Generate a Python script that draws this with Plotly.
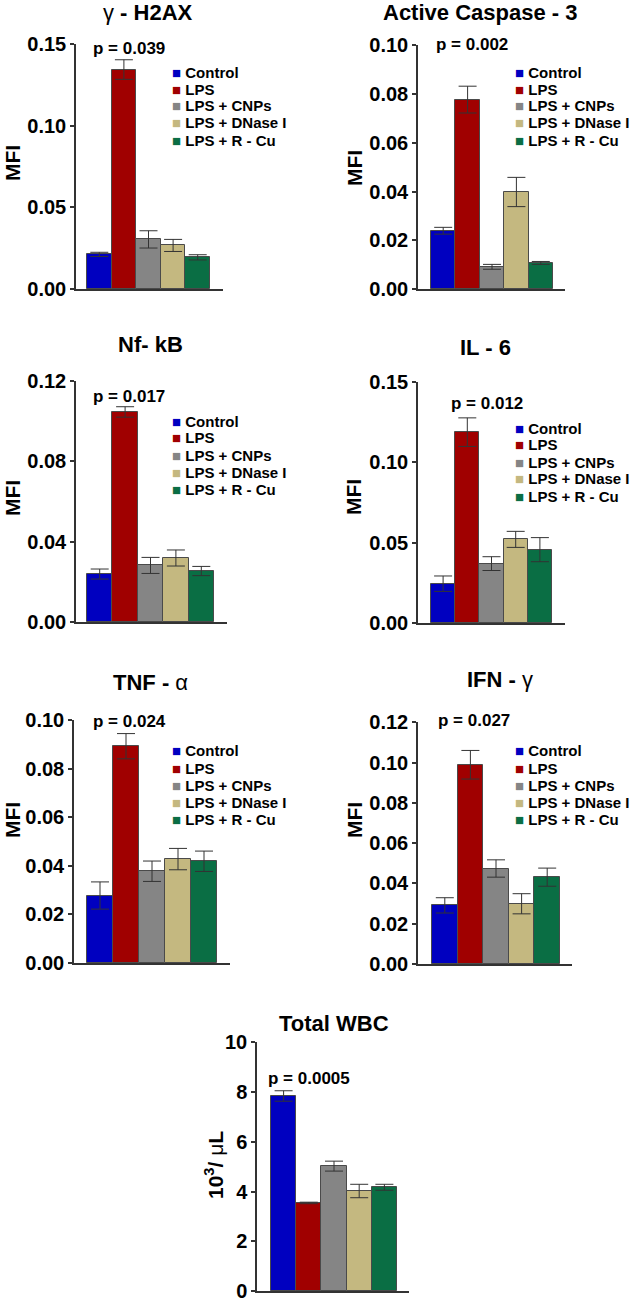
import plotly.graph_objects as go

groups = ["Control", "LPS", "LPS + CNPs", "LPS + DNase I", "LPS + R - Cu"]
colors = ["#0000C0", "#A00000", "#858585", "#C4B880", "#0A6E44"]

titles = ["γ - H2AX", "Active Caspase - 3", "Nf- kB", "IL - 6", "TNF - α", "IFN - γ", "Total WBC"]
p_values = ["p = 0.039", "p = 0.002", "p = 0.017", "p = 0.012", "p = 0.024", "p = 0.027", "p = 0.0005"]
y_titles = ["MFI", "MFI", "MFI", "MFI", "MFI", "MFI", "10<sup>3</sup>/ μL"]

h2ax = [0.0212, 0.1345, 0.0304, 0.0267, 0.0194]
h2ax_err = [0.0013, 0.0060, 0.0053, 0.0037, 0.0016]
casp3 = [0.0239, 0.0777, 0.0091, 0.0398, 0.0107]
casp3_err = [0.0014, 0.0055, 0.0010, 0.0060, 0.0006]
nfkb = [0.0239, 0.1047, 0.0282, 0.0319, 0.0254]
nfkb_err = [0.0025, 0.0026, 0.0040, 0.0040, 0.0023]
il6 = [0.0245, 0.1189, 0.0370, 0.0521, 0.0457]
il6_err = [0.0048, 0.0089, 0.0043, 0.0050, 0.0075]
tnfa = [0.0278, 0.0893, 0.0378, 0.0428, 0.0419]
tnfa_err = [0.0056, 0.0052, 0.0042, 0.0044, 0.0042]
ifng = [0.0291, 0.0989, 0.0474, 0.0299, 0.0431]
ifng_err = [0.0038, 0.0071, 0.0043, 0.0050, 0.0045]
wbc = [7.84, 3.54, 5.02, 4.02, 4.17]
wbc_err = [0.21, 0.03, 0.20, 0.27, 0.12]

values = [h2ax, casp3, nfkb, il6, tnfa, ifng, wbc]
errors = [h2ax_err, casp3_err, nfkb_err, il6_err, tnfa_err, ifng_err, wbc_err]

y_max = [0.15, 0.10, 0.12, 0.15, 0.10, 0.12, 10]
y_dtick = [0.05, 0.02, 0.04, 0.05, 0.02, 0.02, 2]
y_format = [".2f", ".2f", ".2f", ".2f", ".2f", ".2f", "d"]

# page layout, in pixels
W, H = 638, 1304
FONT = "Liberation Sans"
# axis left, axis right, first bar left, last bar right, y top, y bottom
boxes = [
    (76, 223, 87, 210, 44, 289),
    (418, 565, 431, 553, 45, 289),
    (76, 227, 87, 214, 381, 622),
    (418, 565, 431, 552, 382, 623),
    (74, 230, 87, 217, 720, 963),
    (418, 572, 432, 560, 722, 964),
    (257, 409, 271, 397, 1042, 1291),
]
title_pos = [(148, 13), (480, 13), (150, 345), (485, 347), (150, 682), (500, 679), (334, 1023)]
p_pos = [(91, 48), (434, 45), (91, 397), (449, 403), (91, 721), (436, 720), (266, 1078)]
ylab_pos = [(12, 163), (354, 168), (12, 498), (354, 497), (12, 820), (354, 820), (214, 1165)]
legend_pos = [(170, 72), (513, 72), (170, 421), (513, 428), (170, 751), (513, 751)]
legend_step = 17


def px_x( x ):
    return x / W


def px_y( y ):
    return 1 - y / H


def bold_text( s ):
    # greek letters stay regular weight, like the symbol font in the original
    out = ""
    for ch in s:
        if ch in "γαμ":
            out += f"</b>{ch}<b>"
        else:
            out += ch
    return f"<b>{out}</b>".replace( "<b></b>", "" )


fig = go.Figure()
annotations = []

for i, (vals, errs) in enumerate( zip( values, errors ) ):
    n = "" if i == 0 else str( i + 1 )
    x0, x1, bl, br, yt, yb = boxes[i]

    fig.add_trace( go.Bar( x=groups, y=vals,
                           xaxis=f"x{n}", yaxis=f"y{n}",
                           marker={ "color": colors, "line": { "color": "#4a4a4a", "width": 1 } },
                           error_y={ "type": "data", "array": errs, "visible": True,
                                     "color": "#333333", "thickness": 1, "width": 9 },
                           showlegend=False ) )

    bw = ( br - bl ) / len( groups )
    xr = [-0.5 - ( bl - x0 ) / bw, len( groups ) - 0.5 + ( x1 - br ) / bw]

    fig.update_layout( { f"xaxis{n}": dict( domain=[px_x( x0 ), px_x( x1 )], anchor=f"y{n}",
                                            range=xr, showline=True, linecolor="#333333", linewidth=1.5,
                                            showticklabels=False, ticks="", showgrid=False, zeroline=False,
                                            automargin=False, fixedrange=True ),
                         f"yaxis{n}": dict( domain=[px_y( yb ), px_y( yt )], anchor=f"x{n}",
                                            range=[0, y_max[i] * 1.001], dtick=y_dtick[i], tick0=0,
                                            tickformat=y_format[i], showline=True, linecolor="#333333",
                                            linewidth=1.5, ticks="outside", ticklen=4, tickcolor="#333333",
                                            tickwidth=1.5, ticklabeloverflow="allow",
                                            tickfont=dict( family=FONT, size=20, color="black", weight="bold" ),
                                            showgrid=False, zeroline=False, automargin=False,
                                            fixedrange=True ) } )

    # panel title
    tx, ty = title_pos[i]
    annotations.append( dict( text=bold_text( titles[i] ), xref="paper", yref="paper",
                              x=px_x( tx ), y=px_y( ty ), xanchor="center", yanchor="middle",
                              showarrow=False, font=dict( family=FONT, size=22, color="black" ) ) )
    # p value
    px, py = p_pos[i]
    annotations.append( dict( text=f"<b>{p_values[i]}</b>", xref="paper", yref="paper",
                              x=px_x( px ), y=px_y( py ), xanchor="left", yanchor="middle",
                              showarrow=False, font=dict( family=FONT, size=17, color="black" ) ) )
    # y axis label
    lx, ly = ylab_pos[i]
    annotations.append( dict( text=bold_text( y_titles[i] ), xref="paper", yref="paper",
                              x=px_x( lx ), y=px_y( ly ), xanchor="center", yanchor="middle",
                              textangle=-90, showarrow=False,
                              font=dict( family=FONT, size=21, color="black" ) ) )

    # legend (packed tighter than plotly's legend allows)
    if i < len( legend_pos ):
        gx, gy = legend_pos[i]
        for j, (g, c) in enumerate( zip( groups, colors ) ):
            annotations.append( dict( text=f"<span style='color:{c}'>■</span> <b>{g}</b>",
                                      xref="paper", yref="paper",
                                      x=px_x( gx ), y=px_y( gy + j * legend_step ),
                                      xanchor="left", yanchor="middle", showarrow=False,
                                      font=dict( family=FONT, size=15, color="black" ) ) )

fig.update_layout( template="none", width=W, height=H,
                   margin={ "r": 0, "t": 0, "l": 0, "b": 0, "autoexpand": False },
                   plot_bgcolor="#ffffff", paper_bgcolor="#ffffff",
                   bargap=0, font=dict( family=FONT, color="black" ),
                   annotations=annotations )

# the page body has a default 8px margin; drop it so the figure sits at the window corner
fig.write_html( "out.html", config={ "displayModeBar": False },
                post_script="document.body.style.margin = '0';" )
